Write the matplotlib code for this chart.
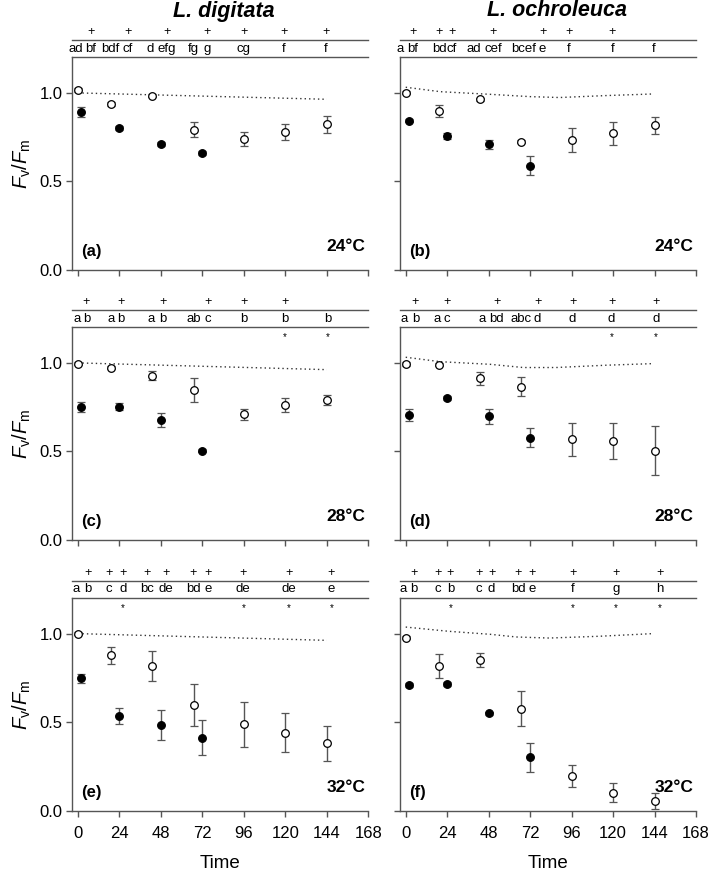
import numpy as np
import matplotlib
matplotlib.use("Agg")
import matplotlib.pyplot as plt

plt.rcParams['font.family'] = ['Liberation Sans', 'DejaVu Sans']
plt.rcParams['mathtext.fontset'] = 'custom'
plt.rcParams['mathtext.rm'] = 'Liberation Sans'
plt.rcParams['mathtext.it'] = 'Liberation Sans:italic'

# sampling times (h)
t_open = [0, 19, 43, 67, 96, 120, 144]
t_heat = [2, 24, 48, 72]

# Fv/Fm, open circles (recovery) and filled circles (heat)
open_a = [1.017, 0.936, 0.985, 0.791, 0.740, 0.780, 0.823]
open_a_err = [0.01, 0.01, 0.01, 0.042, 0.04, 0.044, 0.049]
heat_a = [0.891, 0.800, 0.710, 0.661]
heat_a_err = [0.027, 0.012, 0.01, 0.01]

open_b = [1.002, 0.898, 0.964, 0.725, 0.733, 0.772, 0.817]
open_b_err = [0.01, 0.033, 0.01, 0.01, 0.069, 0.064, 0.047]
heat_b = [0.844, 0.757, 0.710, 0.588]
heat_b_err = [0.01, 0.015, 0.026, 0.053]

open_c = [0.996, 0.974, 0.927, 0.847, 0.710, 0.763, 0.789]
open_c_err = [0.01, 0.01, 0.026, 0.07, 0.032, 0.04, 0.029]
heat_c = [0.750, 0.753, 0.678, 0.505]
heat_c_err = [0.028, 0.02, 0.038, 0.01]

open_d = [0.993, 0.990, 0.913, 0.866, 0.569, 0.559, 0.503]
open_d_err = [0.01, 0.01, 0.038, 0.055, 0.092, 0.103, 0.138]
heat_d = [0.706, 0.802, 0.699, 0.578]
heat_d_err = [0.034, 0.01, 0.042, 0.054]

open_e = [1.0, 0.878, 0.816, 0.596, 0.487, 0.44, 0.38]
open_e_err = [0.01, 0.047, 0.084, 0.118, 0.125, 0.11, 0.098]
heat_e = [0.748, 0.534, 0.485, 0.412]
heat_e_err = [0.025, 0.044, 0.083, 0.10]

open_f = [0.977, 0.816, 0.853, 0.577, 0.196, 0.101, 0.055]
open_f_err = [0.01, 0.069, 0.04, 0.1, 0.06, 0.054, 0.045]
heat_f = [0.709, 0.714, 0.549, 0.301]
heat_f_err = [0.01, 0.01, 0.01, 0.08]

# dotted reference lines
ref_t_a = [0, 72, 144]
ref_a = [1.0, 0.982, 0.964]
ref_t_c = [0, 72, 144]
ref_c = [1.0, 0.981, 0.962]
ref_t_e = [0, 72, 144]
ref_e = [1.0, 0.981, 0.962]
ref_t_b = [0, 20, 49, 72, 89, 116, 143]
ref_b = [1.032, 1.007, 0.992, 0.979, 0.974, 0.985, 0.994]
ref_t_d = [0, 20, 49, 68, 87, 116, 143]
ref_d = [1.032, 1.007, 0.992, 0.974, 0.974, 0.987, 0.996]
ref_t_f = [0, 25, 49, 64, 83, 112, 143]
ref_f = [1.037, 1.013, 0.996, 0.981, 0.975, 0.985, 1.0]

# significance letters (time order), "+" and "*" flags by label index
let_a = ["ad", "bf", "bdf", "cf", "d", "efg", "fg", "g", "cg", "f", "f"]
let_b = ["a", "bf", "bd", "cf", "ad", "cef", "bcef", "e", "f", "f", "f"]
let_c = ["a", "b", "a", "b", "a", "b", "ab", "c", "b", "b", "b"]
let_d = ["a", "b", "a", "c", "a", "bd", "abc", "d", "d", "d", "d"]
let_e = ["a", "b", "c", "d", "bc", "de", "bd", "e", "de", "de", "e"]
let_f = ["a", "b", "c", "b", "c", "d", "bd", "e", "f", "g", "h"]
plus_a = [1, 3, 5, 7, 8, 9, 10]
plus_b = [1, 2, 3, 5, 7, 8, 9]
plus_c = [1, 3, 5, 7, 8, 9]
plus_d = [1, 3, 5, 7, 8, 9, 10]
plus_e = [1, 2, 3, 4, 5, 6, 7, 8, 9, 10]
plus_f = [1, 2, 3, 4, 5, 6, 7, 8, 9, 10]
star_a = []
star_b = []
star_c = [9, 10]
star_d = [9, 10]
star_e = [3, 8, 9, 10]
star_f = [3, 8, 9, 10]

# where the letters sit along x (layout only)
lx_a = [-1, 7.5, 18.7, 29, 42, 51.6, 66.7, 74.8, 96, 119, 143.4]
lx_b = [-3.5, 4, 19.3, 26.8, 39.6, 50.6, 68, 79.2, 94.5, 119.6, 143.4]
lx_c = [-0.6, 4.8, 19.3, 24.9, 42.3, 49.3, 67, 75.1, 96, 119.8, 144.3]
lx_d = [-1, 5.6, 18.2, 24, 44.4, 52.6, 67, 76.3, 96.6, 119.2, 145]
lx_e = [-1, 5.6, 17.7, 25.9, 40, 51, 66.7, 75.1, 95.7, 122, 146.7]
lx_f = [-1.5, 4.8, 18.7, 25.9, 42.5, 49.7, 65.1, 73.2, 96.6, 121.7, 146.9]

grey = '#555555'

fig = plt.figure(figsize=(7.09, 8.72), dpi=100)
W, H = 709.0, 872.0
ax_w = 296.0 / W
ax_h = 212.5 / H
lefts = [72.3 / W, 400.0 / W]
bottoms = [1 - 270.0 / H, 1 - 540.0 / H, 1 - 810.7 / H]

panels = [
    (open_a, open_a_err, heat_a, heat_a_err, ref_t_a, ref_a, let_a, lx_a, plus_a, star_a, "(a)", "24°C"),
    (open_b, open_b_err, heat_b, heat_b_err, ref_t_b, ref_b, let_b, lx_b, plus_b, star_b, "(b)", "24°C"),
    (open_c, open_c_err, heat_c, heat_c_err, ref_t_c, ref_c, let_c, lx_c, plus_c, star_c, "(c)", "28°C"),
    (open_d, open_d_err, heat_d, heat_d_err, ref_t_d, ref_d, let_d, lx_d, plus_d, star_d, "(d)", "28°C"),
    (open_e, open_e_err, heat_e, heat_e_err, ref_t_e, ref_e, let_e, lx_e, plus_e, star_e, "(e)", "32°C"),
    (open_f, open_f_err, heat_f, heat_f_err, ref_t_f, ref_f, let_f, lx_f, plus_f, star_f, "(f)", "32°C"),
]

for i, p in enumerate(panels):
    o, oe, h, he, rt, rv, lets, lx, plus, star, tag, temp = p
    row, col = i // 2, i % 2
    ax = fig.add_axes([lefts[col], bottoms[row], ax_w, ax_h])
    ax.set_xlim(-3.3, 168)
    ax.set_ylim(0, 1.2)

    ax.plot(rt, rv, linestyle=(0, (1, 2.2)), color='#333333', lw=1.0, zorder=1)
    ax.errorbar(t_open, o, yerr=oe, fmt='o', ms=5.5, mfc='white', mec='black',
                mew=0.9, ecolor=grey, elinewidth=1.0, capsize=2.8, capthick=1.0, zorder=3)
    ax.errorbar(t_heat, h, yerr=he, fmt='o', ms=5.5, mfc='black', mec='black',
                mew=0.9, ecolor=grey, elinewidth=1.0, capsize=2.8, capthick=1.0, zorder=3)

    for s in ['left', 'bottom', 'top']:
        ax.spines[s].set_color(grey)
        ax.spines[s].set_linewidth(1.0)
    ax.spines['right'].set_visible(False)
    ax.tick_params(direction='out', length=4, width=1, color=grey,
                   labelsize=12, pad=3, top=False, right=False)
    ax.tick_params(axis='x', pad=7)
    ax.set_xticks(range(0, 169, 24))
    ax.set_yticks([0.0, 0.5, 1.0])
    ax.set_yticklabels(['0.0', '0.5', '1.0'])
    if col == 1:
        ax.tick_params(labelleft=False)
    else:
        ax.set_ylabel(r'$F_\mathrm{v}/F_\mathrm{m}$', fontsize=14.5, labelpad=5)
    if row < 2:
        ax.tick_params(labelbottom=False)
    else:
        ax.set_xlabel('Time', fontsize=13.5, labelpad=10)

    # letter strip above the plot
    ax.plot([0, 1], [1.08, 1.08], transform=ax.transAxes, color=grey,
            lw=1.0, clip_on=False)
    tr = ax.get_xaxis_transform()
    for k, (txt, x) in enumerate(zip(lets, lx)):
        ax.text(x, 1.041, txt, transform=tr, ha='center', va='center', fontsize=9.5)
        if k in plus:
            ax.text(x, 1.118, '+', transform=tr, ha='center', va='center', fontsize=9)
        if k in star:
            ax.text(x, 0.955, '*', transform=tr, ha='center', va='center', fontsize=7)

    ax.text(2, 0.105, tag, fontsize=12, fontweight='bold', ha='left', va='center')
    ax.text(166.5, 0.13, temp, fontsize=12.5, fontweight='bold', ha='right', va='center')

fig.text(224 / W, 1 - 11 / H, 'L. digitata', fontsize=15.5, fontweight='bold',
         style='italic', ha='center', va='center')
fig.text(557 / W, 1 - 11 / H, 'L. ochroleuca', fontsize=15.5, fontweight='bold',
         style='italic', ha='center', va='center')

fig.savefig('out.png', dpi=100)
